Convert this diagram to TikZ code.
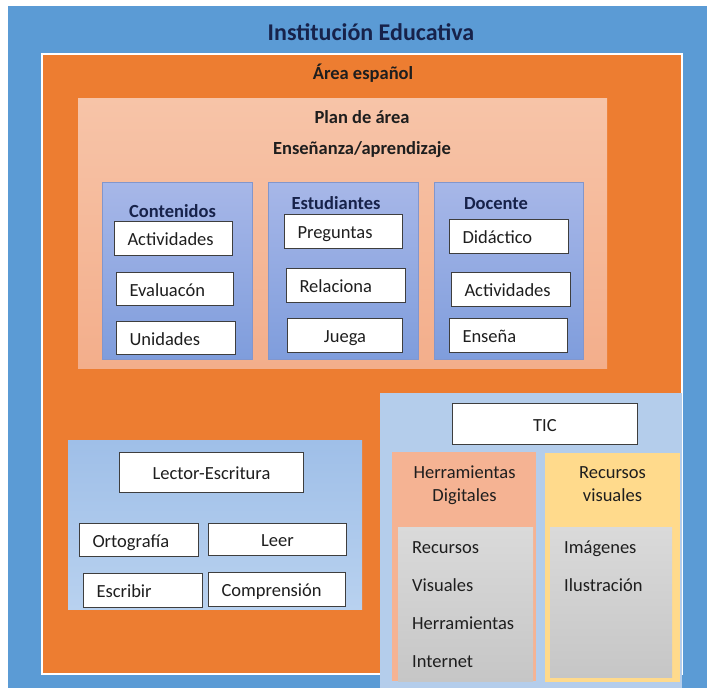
\documentclass[tikz,border=0pt]{standalone}
\usepackage{fontspec}
\setmainfont{Carlito}
\definecolor{blueout}{HTML}{5B9BD5}
\definecolor{orng}{HTML}{ED7D31}
\definecolor{planT}{HTML}{F7C4A8}
\definecolor{planB}{HTML}{F3AE8B}
\definecolor{colT}{HTML}{A7B7E8}
\definecolor{colB}{HTML}{7F9DDC}
\definecolor{colLine}{HTML}{8296CC}
\definecolor{lecT}{HTML}{9FBFE8}
\definecolor{lecB}{HTML}{B8D1EF}
\definecolor{ticbg}{HTML}{B4CDEB}
\definecolor{herr}{HTML}{F5B393}
\definecolor{recv}{HTML}{FFDA8C}
\definecolor{grT}{HTML}{DADADA}
\definecolor{grB}{HTML}{C6C6C6}
\definecolor{boxline}{HTML}{3E3E3E}
\definecolor{navy}{HTML}{17224A}
\definecolor{txt}{HTML}{1E1E1E}
\begin{document}
\begin{tikzpicture}[x=1pt,y=-1pt,
  reg/.style={font=\fontsize{18.5}{22}\selectfont, text=txt, inner sep=0pt},
  bld/.style={font=\bfseries\fontsize{18.5}{22}\selectfont, text=txt, inner sep=0pt},
  coltitle/.style={font=\bfseries\fontsize{18.5}{22}\selectfont, text=navy, inner sep=0pt},
  wbox/.style={draw=boxline, fill=white, line width=1pt, anchor=north west,
    inner xsep=13pt, inner ysep=0pt, align=left, font=\fontsize{18.5}{22}\selectfont,
    text=txt, text height=14pt, text depth=0pt},
  cbox/.style={wbox, align=center, inner xsep=0pt},
  column/.style={top color=colT, bottom color=colB, draw=colLine, line width=0.8pt}]
\useasboundingbox (0,0) rectangle (710,688);
% outer frames
\fill[blueout] (8,6) rectangle (707,688);
\fill[white] (41,53) rectangle (683,675);
\fill[orng] (43,55) rectangle (681,673);
\node[font=\bfseries\fontsize{24}{28}\selectfont, text=navy, inner sep=0pt, anchor=base] (inst) at (371,40) {Institución Educativa};
\node[bld, anchor=base] (area) at (363,79) {Área español};
% plan de area
\path[top color=planT, bottom color=planB] (78,98) rectangle (607,368);
\node[bld, anchor=base] (plan) at (362,123) {Plan de área};
\node[bld, anchor=base] (ens) at (362,154) {Enseñanza/aprendizaje};
% columns
\path[column] (102,182) rectangle (252,359);
\path[column] (268,182) rectangle (418,359);
\path[column] (434,182) rectangle (583,359);
\node[coltitle, anchor=base] (cont) at (172.5,217) {Contenidos};
\node[coltitle, anchor=base] (estu) at (336,209) {Estudiantes};
\node[coltitle, anchor=base] (doce) at (496,209) {Docente};
\node[wbox, minimum width=118pt, minimum height=34pt, text width=92pt] (cA) at (114,221) {Actividades};
\node[wbox, minimum width=117pt, minimum height=33pt, text width=91pt] (cE) at (116,272) {Evaluacón};
\node[wbox, minimum width=119pt, minimum height=33pt, text width=93pt] (cU) at (116,321) {Unidades};
\node[wbox, minimum width=118pt, minimum height=34pt, text width=92pt] (eP) at (284,214) {Preguntas};
\node[wbox, minimum width=119pt, minimum height=34pt, text width=93pt] (eR) at (286,268) {Relaciona};
\node[cbox, minimum width=115pt, minimum height=34pt] (eJ) at (287,318) {Juega};
\node[wbox, minimum width=119pt, minimum height=34pt, text width=93pt] (dD) at (449,219) {Didáctico};
\node[wbox, minimum width=119pt, minimum height=34pt, text width=93pt] (dA) at (451,272) {Actividades};
\node[wbox, minimum width=118pt, minimum height=34pt, text width=92pt] (dE) at (449,318) {Enseña};
% lector-escritura
\path[top color=lecT, bottom color=lecB] (68,440) rectangle (362,609);
\node[cbox, minimum width=184pt, minimum height=40pt] (lw) at (119,452) {Lector-Escritura};
\node[wbox, minimum width=119pt, minimum height=33pt, text width=93pt] (lo) at (79,523) {Ortografía};
\node[cbox, minimum width=138pt, minimum height=32pt] (ll) at (208,523) {Leer};
\node[wbox, minimum width=119pt, minimum height=34pt, text width=93pt] (ls) at (83,573) {Escribir};
\node[wbox, minimum width=137pt, minimum height=34pt, text width=111pt] (lc) at (208,572) {Comprensión};
% TIC
\fill[ticbg] (380,393) rectangle (682,688);
\node[cbox, minimum width=185pt, minimum height=41pt] (tic) at (452,403) {TIC};
\fill[herr] (392,452) rectangle (536,681);
\path[top color=grT, bottom color=grB] (398,527) rectangle (533,681);
\fill[recv] (545,453) rectangle (680,682);
\path[top color=grT, bottom color=grB] (550,527) rectangle (672,677);
\node[reg, anchor=base] (hd1) at (464.5,478) {Herramientas};
\node[reg, anchor=base] (hd2) at (464.5,501) {Digitales};
\node[reg, anchor=base] (rv1) at (612.5,478) {Recursos};
\node[reg, anchor=base] (rv2) at (612.5,501) {visuales};
\node[reg, anchor=base west] (h1) at (412,553) {Recursos};
\node[reg, anchor=base west] (h2) at (412,591) {Visuales};
\node[reg, anchor=base west] (h3) at (412,629) {Herramientas};
\node[reg, anchor=base west] (h4) at (412,667) {Internet};
\node[reg, anchor=base west] (r1) at (564,553) {Imágenes};
\node[reg, anchor=base west] (r2) at (564,591) {Ilustración};
\end{tikzpicture}
\end{document}
